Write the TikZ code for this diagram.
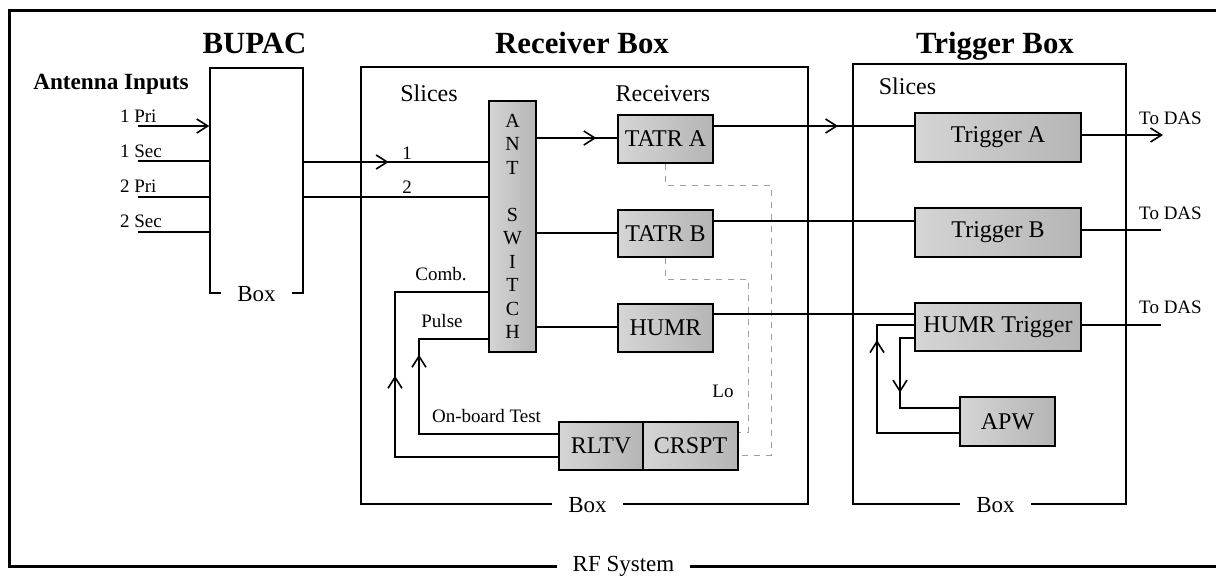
\documentclass[tikz,border=0pt]{standalone}
\usepackage{fontspec}
\setmainfont{Liberation Serif}
\usetikzlibrary{arrows.meta, decorations.markings}
\tikzset{block/.style={draw, thick, left color=gray!33, right color=gray!58,
    inner sep=0pt, font=\fontsize{12}{14}\selectfont},
  housing/.style={draw, thick, inner sep=0pt},
  wire/.style={thick},
  lodash/.style={draw=gray!75, thin, dash pattern=on 3pt off 3pt},
  boxlabel/.style={fill=white, inner xsep=8pt, inner ysep=1pt,
    font=\fontsize{11.5}{13}\selectfont},
  boxtitle/.style={font=\bfseries\fontsize{15.4}{18}\selectfont},
  heading/.style={font=\fontsize{12}{14}\selectfont},
  smalltext/.style={font=\fontsize{9.5}{11}\selectfont},
  tipend/.style={-{Straight Barb[length=5.5pt, width=7pt]}},
  flowmark/.style={postaction={decorate}, decoration={markings,
      mark=at position #1 with {\arrow{Straight Barb[length=5.5pt, width=7pt]}}}}
}

\begin{document}
\begin{tikzpicture}[x=0.5pt, y=-0.5pt]
    \useasboundingbox (0,0) rectangle (1216,575);
    % outer frame
    \draw[line width=1.5pt] (1216,10) -- (9,10) -- (9,566) -- (1216,566);
    \draw (623.5,566) node[boxlabel] (rfsys) {RF System};

    % three housings
    \draw (256.5,180.5) node[housing, minimum width=46.5pt,
    minimum height=112.5pt] (bupac) {};
    \draw (584.5,285.5) node[housing, minimum width=223.5pt,
    minimum height=218.5pt] (recvbox) {};
    \draw (989.5,284) node[housing, minimum width=136.5pt,
    minimum height=220pt] (trigbox) {};
    \draw (bupac.south) node[boxlabel] (bupaclbl) {Box};
    \draw ([xshift=1.5pt]recvbox.south) node[boxlabel] (recvlbl) {Box};
    \draw ([xshift=3pt]trigbox.south) node[boxlabel] (triglbl) {Box};

    \draw (254.5,53) node[boxtitle, anchor=base] (bupactitle) {BUPAC};
    \draw (582,53) node[boxtitle, anchor=base] (recvtitle) {Receiver Box};
    \draw (995,53) node[boxtitle, anchor=base] (trigtitle) {Trigger Box};
    \draw (111,89) node[anchor=base, font=\bfseries\fontsize{11.6}{14}\selectfont]
    (antin) {Antenna Inputs};
    \draw (429,101) node[heading, anchor=base] (recvslices) {Slices};
    \draw (663,101) node[heading, anchor=base] (receivers) {Receivers};
    \draw (907.5,94) node[heading, anchor=base] (trigslices) {Slices};

    % blocks
    \draw (512.5,226.5) node[block, minimum width=23.5pt, minimum height=125.5pt,
    align=center, font=\fontsize{10}{11.75}\selectfont]
    (antsw) {A\\N\\T\\[11.75pt]S\\W\\I\\T\\C\\H};
    \draw (665.5,139) node[block, minimum width=47.5pt, minimum height=24pt]
    (tatra) {TATR A};
    \draw (665.5,233.5) node[block, minimum width=47.5pt, minimum height=23.5pt]
    (tatrb) {TATR B};
    \draw (665.5,328) node[block, minimum width=47.5pt, minimum height=24pt]
    (humr) {HUMR};
    \draw (601,446) node[block, minimum width=42pt, minimum height=24pt]
    (rltv) {RLTV};
    \draw (690.5,446) node[block, minimum width=47.5pt, minimum height=24pt]
    (crspt) {CRSPT};
    \draw (998,137.5) node[block, minimum width=83pt, minimum height=24.5pt]
    (trga) {Trigger A};
    \draw (998,232.5) node[block, minimum width=83pt, minimum height=24.5pt]
    (trgb) {Trigger B};
    \draw (998,327) node[block, minimum width=83pt, minimum height=24pt]
    (humrtrg) {HUMR Trigger};
    \draw (1007.5,421.5) node[block, minimum width=47.5pt, minimum height=24.5pt]
    (apw) {APW};

    % antenna inputs
    \coordinate (pri1) at (138,126);
    \coordinate (sec1) at (138,161);
    \coordinate (pri2) at (138,197);
    \coordinate (sec2) at (138,232);
    \draw (113,122) node[smalltext, anchor=base west] (pri1lbl) {1 Pri};
    \draw (113,157) node[smalltext, anchor=base west] (sec1lbl) {1 Sec};
    \draw (113,192) node[smalltext, anchor=base west] (pri2lbl) {2 Pri};
    \draw (113,227) node[smalltext, anchor=base west] (sec2lbl) {2 Sec};
    \draw[wire, tipend] (pri1) -- (pri1 -| bupac.west);
    \draw[wire] (sec1) -- (sec1 -| bupac.west);
    \draw[wire] (pri2) -- (pri2 -| bupac.west);
    \draw[wire] (sec2) -- (sec2 -| bupac.west);

    % slices into the antenna switch
    \draw[wire, flowmark=0.46] (bupac.east |- 0,162) -- (antsw.west |- 0,162);
    \draw[wire] (bupac.east |- 0,197) -- (antsw.west |- 0,197);
    \draw (407,159) node[smalltext, anchor=base] (slice1) {1};
    \draw (407,193) node[smalltext, anchor=base] (slice2) {2};

    % switch to receivers
    \draw[wire, flowmark=0.74] (antsw.east |- 0,138) -- (tatra.west |- 0,138);
    \draw[wire] (antsw.east |- 0,233) -- (tatrb.west |- 0,233);
    \draw[wire] (antsw.east |- 0,327) -- (humr.west |- 0,327);

    % local oscillator feeds
    \draw[lodash] (tatra.south) |- (771,185) |- (crspt.east |- 0,455);
    \draw[lodash] (tatrb.south) |- (748,279) |- (crspt.east |- 0,432);
    \draw (723,397) node[smalltext, anchor=base] (lo) {Lo};

    % test signals back to the switch
    \draw[wire, flowmark=0.58] (rltv.west |- 0,457) -| (395,292)
    -- (antsw.west |- 0,292);
    \draw[wire, flowmark=0.72] (rltv.west |- 0,434) -| (419,339)
    -- (antsw.west |- 0,339);
    \draw (441,280) node[smalltext, anchor=base] (comb) {Comb.};
    \draw (442,327) node[smalltext, anchor=base] (pulse) {Pulse};
    \draw (486.5,422) node[smalltext, anchor=base] (onboard) {On-board Test};

    % receivers to triggers
    \draw[wire, flowmark=0.62] (tatra.east |- 0,126) -- (trga.west |- 0,126);
    \draw[wire] (tatrb.east |- 0,221) -- (trgb.west |- 0,221);
    \draw[wire] (humr.east |- 0,314) -- (humrtrg.west |- 0,314);

    % APW loop
    \draw[wire, flowmark=0.48] (humrtrg.west |- 0,338) -| (900,408)
    -- (apw.west |- 0,408);
    \draw[wire, flowmark=0.77] (apw.west |- 0,433) -| (877,325)
    -- (humrtrg.west |- 0,325);

    % outputs
    \coordinate (dasa) at (1163,135);
    \coordinate (dasb) at (1161,230);
    \coordinate (dasc) at (1161,325);
    \draw[wire, tipend] (trga.east |- dasa) -- (dasa);
    \draw[wire] (trgb.east |- dasb) -- (dasb);
    \draw[wire] (humrtrg.east |- dasc) -- (dasc);
    \draw (1170.5,124) node[smalltext, anchor=base] (dasalbl) {To DAS};
    \draw (1170.5,219) node[smalltext, anchor=base] (dasblbl) {To DAS};
    \draw (1170.5,313) node[smalltext, anchor=base] (dasclbl) {To DAS};
  \end{tikzpicture}
\end{document}
